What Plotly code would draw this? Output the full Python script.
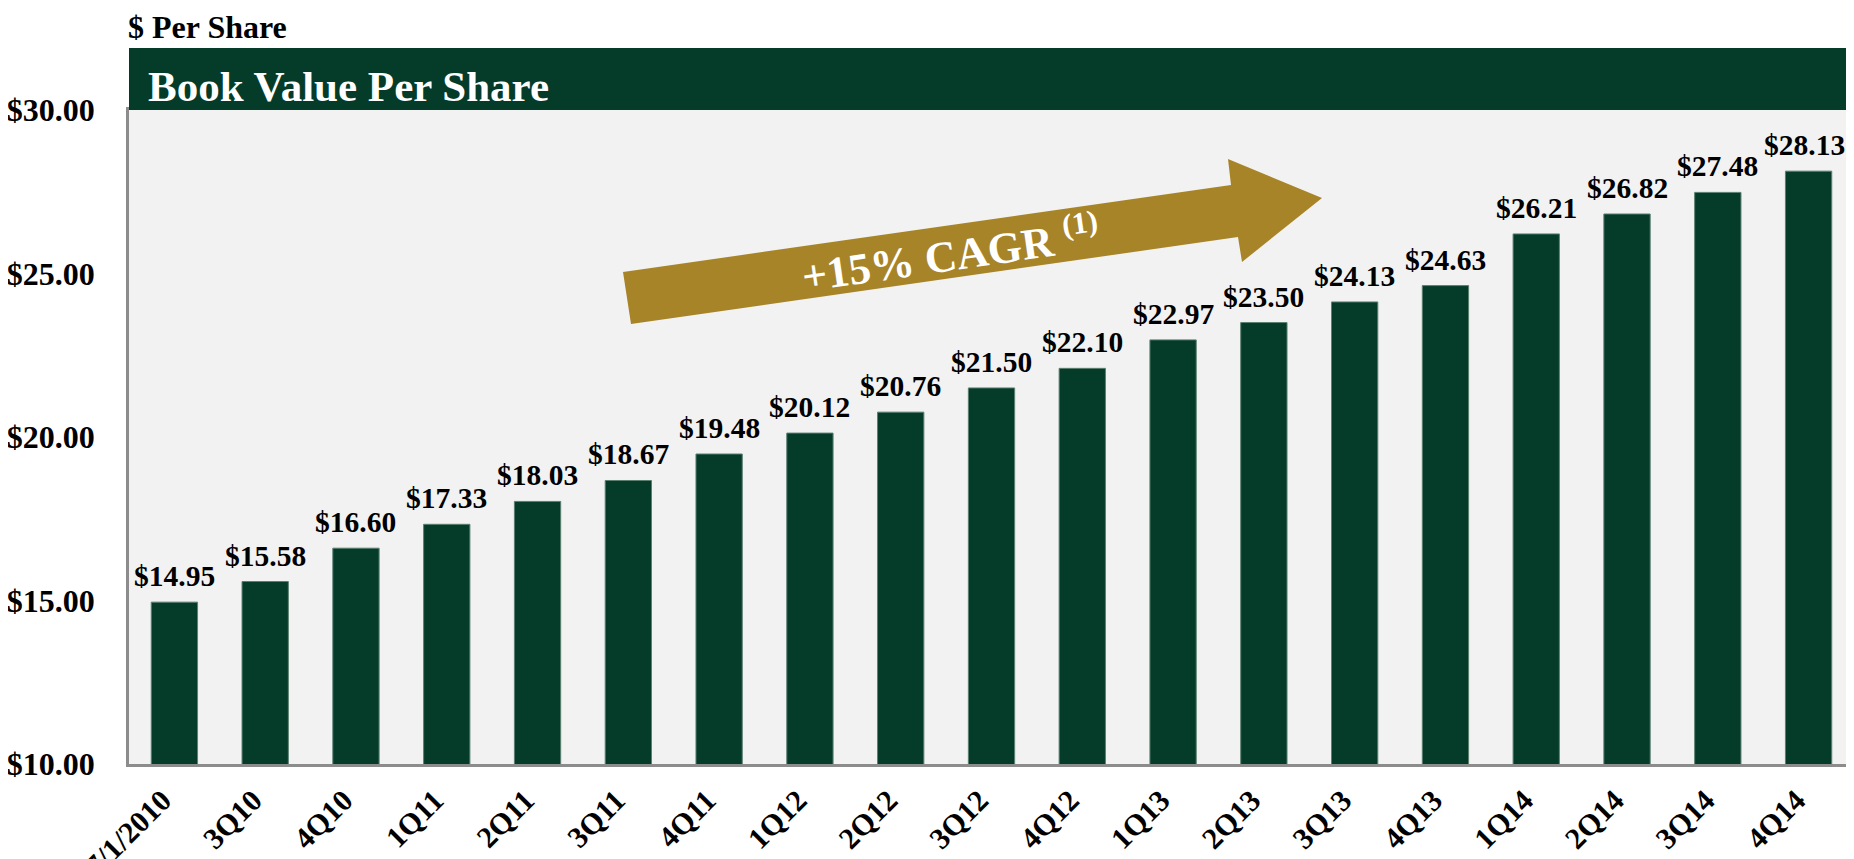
import plotly.graph_objects as go

categories = ["7/1/2010", "3Q10", "4Q10", "1Q11", "2Q11", "3Q11", "4Q11", "1Q12", "2Q12",
              "3Q12", "4Q12", "1Q13", "2Q13", "3Q13", "4Q13", "1Q14", "2Q14", "3Q14", "4Q14"]
book_value = [14.95, 15.58, 16.60, 17.33, 18.03, 18.67, 19.48, 20.12, 20.76,
              21.50, 22.10, 22.97, 23.50, 24.13, 24.63, 26.21, 26.82, 27.48, 28.13]
y_ticks = [10, 15, 20, 25, 30]
y_ticktext = ["$10.00", "$15.00", "$20.00", "$25.00", "$30.00"]

GREEN = "#053B29"
GOLD = "#A88428"
FONT = "Liberation Serif"

# the page body has an 8px default margin; lay out in page pixels, then offset
OFF = 8
PAGE_W, PAGE_H = 1854, 859
W, H = PAGE_W - OFF, PAGE_H - OFF
PLOT_L, PLOT_R, PLOT_T, PLOT_B = 129, 1854, 110, 764   # page pixels
ML = PLOT_L - OFF
MR = 0
MT = PLOT_T - OFF
MB = H - (PLOT_B - OFF)
plot_h = PLOT_B - PLOT_T
plot_w = PLOT_R - PLOT_L

x_idx = list(range(len(categories)))


def py_to_paper(py):
    return (PLOT_B - py) / plot_h


def px_to_paper(px):
    return (px - PLOT_L) / plot_w


def px_to_data(px, py):
    cat_w = plot_w / len(categories)
    xd = (px - PLOT_L) / cat_w - 0.5
    yd = 10 + (PLOT_B - py) / plot_h * 20
    return xd, yd


fig = go.Figure()
fig.add_trace(go.Bar(
    x=x_idx, y=book_value, width=0.51,
    marker=dict(color=GREEN, line=dict(color="#5B8070", width=1)),
    hoverinfo="skip",
))

# data labels
last = len(x_idx) - 1
for i, v in zip(x_idx, book_value):
    fig.add_annotation(
        x=i, y=v, xref="x", yref="y", text=f"${v:.2f}", showarrow=False,
        yanchor="bottom", xanchor="center", yshift=8, xshift=-4 if i == last else 0,
        font=dict(family=FONT, size=29.5, color="black", weight="bold"),
    )

# header band
fig.add_shape(type="rect", xref="paper", yref="paper", x0=0, x1=1.01, y0=1.0, y1=py_to_paper(48),
              fillcolor=GREEN, line=dict(width=0), layer="above")
fig.add_annotation(
    xref="paper", yref="paper", x=px_to_paper(146), y=py_to_paper(86),
    text="Book Value Per Share", showarrow=False, xanchor="left", yanchor="middle",
    font=dict(family=FONT, size=43, color="white", weight="bold"),
)
fig.add_annotation(
    xref="paper", yref="paper", x=px_to_paper(126), y=py_to_paper(27),
    text="$ Per Share", showarrow=False, xanchor="left", yanchor="middle",
    font=dict(family=FONT, size=32, color="black", weight="bold"),
)

# growth arrow (page pixel geometry converted to data coordinates)
arrow_px = [(623, 272), (1231, 185), (1228, 159), (1322, 198), (1242, 262), (1238, 237), (631, 324)]
pts = [px_to_data(*p) for p in arrow_px]
path = "M " + " L ".join(f"{x:.4f},{y:.4f}" for x, y in pts) + " Z"
fig.add_shape(type="path", xref="x", yref="y", path=path, fillcolor=GOLD, line=dict(width=0))
tx, ty = px_to_data(950, 252)
fig.add_annotation(
    x=tx, y=ty, xref="x", yref="y", text="+15% CAGR <sup>(1)</sup>", showarrow=False,
    textangle=-8.2, xanchor="center", yanchor="middle",
    font=dict(family=FONT, size=44, color="white", weight="bold"),
)

fig.update_layout(
    width=W, height=H,
    margin=dict(l=ML, r=MR, t=MT, b=MB, autoexpand=False),
    paper_bgcolor="white", plot_bgcolor="#F2F2F2",
    showlegend=False, bargap=0.49,
)
fig.update_xaxes(
    range=[-0.5, len(categories) - 0.5], tickvals=x_idx, ticktext=categories,
    tickangle=-45, showgrid=False, zeroline=False,
    showline=True, linecolor="#8C8C8C", linewidth=2.5, mirror=True, ticks="",
    ticklabelstandoff=4, ticklabelshift=-12,
    tickfont=dict(family=FONT, size=30, color="black", weight="bold"),
)
fig.update_yaxes(
    range=[10, 30], tickvals=y_ticks, ticktext=y_ticktext, showgrid=False, zeroline=False,
    showline=True, linecolor="#8C8C8C", linewidth=2.5, ticks="", ticklabelstandoff=25,
    tickfont=dict(family=FONT, size=32, color="black", weight="bold"),
)

fig.write_html("out.html")
